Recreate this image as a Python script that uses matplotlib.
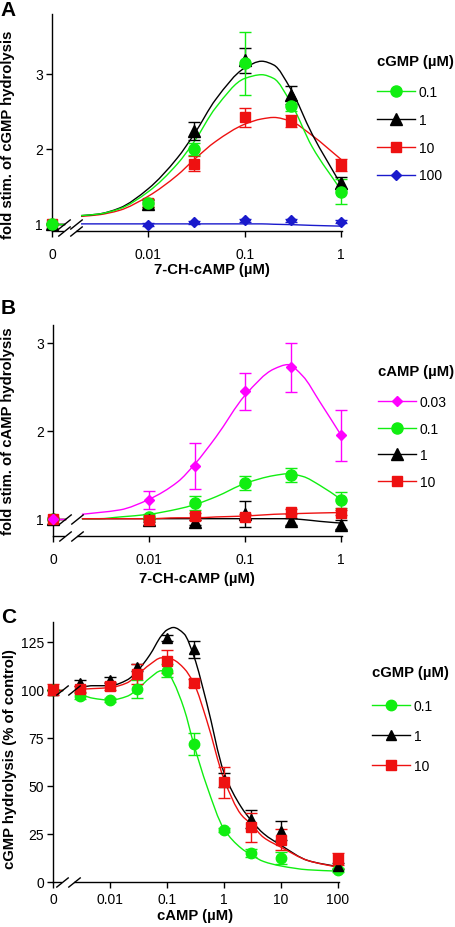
import numpy as np
import matplotlib
matplotlib.use('Agg')
import matplotlib.pyplot as plt
from matplotlib.path import Path
from matplotlib.patches import PathPatch
from matplotlib.lines import Line2D
import matplotlib.transforms as mtransforms
from matplotlib.ticker import NullLocator

plt.rcParams['font.family'] = ['Liberation Sans', 'DejaVu Sans']
plt.rcParams['font.size'] = 10

# ---------------- data ----------------
ZERO_POS = 0.001          # log-axis position used for the "0" concentration

# Panel A : fold stim. of cGMP hydrolysis vs 7-CH-cAMP, series = cGMP (uM)
a_x = [ZERO_POS, 0.01, 0.03, 0.1, 0.3, 1]
a_series = ['0.1', '1', '10', '100']
a_y_01 = [1.0, 1.28, 2.00, 3.14, 2.57, 1.43]
a_e_01 = [0.0, 0.05, 0.08, 0.42, 0.07, 0.17]
a_y_1 = [1.0, 1.27, 2.24, 3.18, 2.72, 1.54]
a_e_1 = [0.0, 0.05, 0.12, 0.17, 0.12, 0.08]
a_y_10 = [1.0, 1.28, 1.80, 2.42, 2.37, 1.79]
a_e_10 = [0.0, 0.05, 0.10, 0.13, 0.08, 0.08]
a_y_100 = [1.0, 0.99, 1.02, 1.05, 1.05, 1.03]
a_e_100 = [0.0, 0.02, 0.02, 0.02, 0.02, 0.02]
# fitted curves
a_fx = [0.002, 0.003, 0.005, 0.01, 0.02, 0.03, 0.05, 0.1, 0.15, 0.2, 0.3, 0.5, 1]
a_f_01 = [1.11, 1.13, 1.20, 1.43, 1.80, 2.10, 2.55, 2.94, 2.99, 2.94, 2.62, 2.03, 1.45]
a_f_1 = [1.11, 1.13, 1.21, 1.47, 1.88, 2.20, 2.66, 3.08, 3.17, 3.12, 2.80, 2.20, 1.52]
a_f_10 = [1.10, 1.12, 1.18, 1.37, 1.65, 1.86, 2.10, 2.33, 2.40, 2.42, 2.37, 2.18, 1.86]
a_f_100 = [1.0, 1.0, 1.0, 1.0, 1.0, 1.0, 1.0, 1.0, 1.0, 0.995, 0.99, 0.98, 0.97]

# Panel B : fold stim. of cAMP hydrolysis vs 7-CH-cAMP, series = cAMP (uM)
b_x = [ZERO_POS, 0.01, 0.03, 0.1, 0.3, 1]
b_series = ['0.03', '0.1', '1', '10']
b_y_003 = [1.0, 1.21, 1.60, 2.45, 2.72, 1.95]
b_e_003 = [0.02, 0.10, 0.26, 0.21, 0.28, 0.29]
b_y_01 = [1.0, 1.02, 1.18, 1.41, 1.50, 1.21]
b_e_01 = [0.0, 0.03, 0.08, 0.08, 0.08, 0.09]
b_y_1 = [1.0, 0.98, 0.96, 1.05, 0.97, 0.93]
b_e_1 = [0.0, 0.02, 0.03, 0.15, 0.04, 0.05]
b_y_10 = [1.0, 0.99, 1.03, 1.02, 1.08, 1.07]
b_e_10 = [0.0, 0.02, 0.04, 0.03, 0.03, 0.03]
b_fx = [0.002, 0.003, 0.005, 0.01, 0.02, 0.03, 0.05, 0.1, 0.2, 0.28, 0.4, 0.6, 1]
b_f_003 = [1.05, 1.07, 1.10, 1.22, 1.42, 1.62, 1.93, 2.40, 2.70, 2.75, 2.62, 2.33, 1.95]
b_f_01 = [1.0, 1.0, 1.02, 1.05, 1.11, 1.16, 1.25, 1.40, 1.49, 1.51, 1.48, 1.38, 1.22]
b_f_1 = [1.0, 1.0, 1.0, 1.0, 1.0, 1.0, 1.0, 1.0, 1.0, 1.0, 0.99, 0.97, 0.95]
b_f_10 = [1.0, 1.0, 1.0, 1.0, 1.01, 1.01, 1.02, 1.03, 1.05, 1.055, 1.06, 1.065, 1.07]

# Panel C : cGMP hydrolysis (% of control) vs cAMP, series = cGMP (uM)
c_x = [ZERO_POS, 0.003, 0.01, 0.03, 0.1, 0.3, 1, 3, 10, 100]
c_series = ['0.1', '1', '10']
c_y_01 = [100, 96.5, 94.5, 100.3, 109.8, 71.7, 27.0, 14.9, 12.2, 6.3]
c_e_01 = [0, 1.5, 1.0, 4.5, 3.5, 5.6, 1.0, 2.0, 3.0, 1.0]
c_y_1 = [100, 103.4, 105.0, 111.5, 126.7, 121.0, 53.0, 32.6, 26.5, 8.3]
c_e_1 = [0, 1.5, 1.5, 2.0, 1.5, 4.5, 3.5, 4.5, 5.0, 1.5]
c_y_10 = [100, 100.3, 101.7, 108.1, 114.7, 103.4, 51.7, 28.3, 21.9, 11.8]
c_e_10 = [3.0, 1.5, 2.0, 5.0, 6.0, 2.0, 8.2, 7.4, 5.5, 3.0]
c_fx = [0.0025, 0.005, 0.01, 0.02, 0.03, 0.05, 0.08, 0.1, 0.13, 0.2, 0.3, 0.5, 1, 2, 3, 5, 10, 30, 100]
c_f_01 = [98.5, 95.5, 94.5, 96.5, 100, 106, 109.8, 109.5, 104, 90, 71, 50, 27.5, 17.5, 14, 10.5, 8.2, 6.2, 5.5]
c_f_1 = [100.5, 102, 102, 105, 109.5, 118, 128, 131, 132.3, 129, 117, 93, 57, 39, 32, 25, 19, 11, 7.8]
c_f_10 = [100, 100.5, 101, 103.5, 107.5, 113, 116.5, 116.5, 115.5, 111, 103, 84, 53.5, 35, 30, 23, 18, 11, 7.5]

GREEN = '#11ee11'
RED = '#ee1111'
BLACK = '#000000'
BLUE = '#1a1acc'
MAGENTA = '#ff00ff'
BOLD_SIZE = 10.7


def smooth_curve(ax, xs, ys, color, lw=1.0):
    """Draw a smooth (monotone cubic) Bezier path through knots in log-x space."""
    xs = np.asarray(xs, float)
    y = np.asarray(ys, float)
    u = np.log10(xs)
    h = np.diff(u)
    d = np.diff(y) / h
    m = np.zeros_like(y)
    m[0] = d[0]
    m[-1] = d[-1]
    for k in range(1, len(y) - 1):
        if d[k - 1] * d[k] <= 0:
            m[k] = 0.0
        else:
            w1 = 2 * h[k] + h[k - 1]
            w2 = h[k] + 2 * h[k - 1]
            m[k] = (w1 + w2) / (w1 / d[k - 1] + w2 / d[k])
    verts = [(xs[0], y[0])]
    codes = [Path.MOVETO]
    for k in range(len(h)):
        verts.append((10 ** (u[k] + h[k] / 3), y[k] + m[k] * h[k] / 3))
        verts.append((10 ** (u[k + 1] - h[k] / 3), y[k + 1] - m[k + 1] * h[k] / 3))
        verts.append((xs[k + 1], y[k + 1]))
        codes += [Path.CURVE4] * 3
    ax.add_patch(PathPatch(Path(verts, codes), fill=False, edgecolor=color,
                           lw=lw, zorder=2))


SLASH = [(-1, -0.8), (1, 0.8)]


def axis_break(ax, b1, b2, base_y):
    blend = mtransforms.blended_transform_factory(ax.transData, ax.transAxes)
    ax.plot([b1, b2], [0, 0], color='white', lw=3, transform=blend,
            clip_on=False, zorder=3, solid_capstyle='butt')
    for bx in (b1, b2):
        ax.plot([bx], [0], marker=SLASH, ms=9, mfc='none', mec='k', mew=1.0,
                transform=blend, clip_on=False, zorder=4, ls='none')
        ax.plot([bx], [base_y], marker=SLASH, ms=9, mfc='none', mec='k', mew=1.0,
                clip_on=False, zorder=6, ls='none')


def series(ax, x, y, e, fx, fy, color, marker, ms, b1):
    smooth_curve(ax, fx, fy, color)
    ax.plot([x[0], b1], [y[0], y[0]], color=color, lw=1.0, zorder=2)
    ax.errorbar(x, y, yerr=e, fmt='none', ecolor=color, elinewidth=1.0,
                capsize=4.2, capthick=1.0, zorder=2.5, clip_on=False)
    ax.plot(x, y, ls='none', marker=marker, ms=ms, color=color, mec=color,
            zorder=3, clip_on=False)
    return Line2D([], [], color=color, lw=1.0, marker=marker, ms=ms, mec=color)


def style(ax, xlim, ylim, xticks, xticklabels, yticks, xpad):
    ax.set_xscale('log')
    ax.set_xlim(*xlim)
    ax.set_ylim(*ylim)
    ax.set_xticks(xticks)
    ax.set_xticklabels(xticklabels)
    ax.xaxis.set_minor_locator(NullLocator())
    ax.set_yticks(yticks)
    ax.set_yticklabels([str(t) for t in yticks])
    for s in ('top', 'right'):
        ax.spines[s].set_visible(False)
    for s in ('left', 'bottom'):
        ax.spines[s].set_linewidth(1.0)
    ax.tick_params(axis='x', direction='out', length=4.5, width=1.0, pad=xpad, labelsize=10)
    ax.tick_params(axis='y', direction='out', length=4, width=1.0, pad=2.5, labelsize=10)


fig = plt.figure(figsize=(4.56, 9.28), dpi=100)
W, H = 456.0, 928.0

def rect(l, r, top, bot):
    return [l / W, 1 - bot / H, (r - l) / W, (bot - top) / H]


def legend_block(ax, handles, labels, title, x, title_y, first_y, spacing):
    fig.text(x / W, 1 - title_y / H, title, fontweight='bold', fontsize=BOLD_SIZE,
             ha='left', va='center')
    ax.legend(handles, labels, loc='upper left',
              bbox_to_anchor=(x / W, 1 - (first_y - 7.2) / H),
              bbox_transform=fig.transFigure, frameon=False,
              handlelength=2.75, handletextpad=0.25, labelspacing=spacing,
              borderpad=0, borderaxespad=0, numpoints=1, fontsize=10)


# ---------------- Panel A ----------------
axA = fig.add_axes(rect(52, 341.9, 15, 232))
b1A, b2A = 0.00133, 0.00178
hA = []
hA.append(series(axA, a_x, a_y_100, a_e_100, a_fx, a_f_100, BLUE, 'D', 5.2, b1A))
hA.append(series(axA, a_x, a_y_10, a_e_10, a_fx, a_f_10, RED, 's', 7, b1A))
hA.append(series(axA, a_x, a_y_1, a_e_1, a_fx, a_f_1, BLACK, '^', 8, b1A))
hA.append(series(axA, a_x, a_y_01, a_e_01, a_fx, a_f_01, GREEN, 'o', 8, b1A))
style(axA, (ZERO_POS, 1.02), (0.905, 3.8), [ZERO_POS, 0.01, 0.1, 1],
      ['0', '0.01', '0.1', '1'], [1, 2, 3], 7)
axis_break(axA, b1A, b2A, 1.0)
axA.set_xlabel('7-CH-cAMP (µM)', fontweight='bold', fontsize=BOLD_SIZE)
axA.xaxis.set_label_coords(0.553, -0.142)
axA.set_ylabel('fold stim. of cGMP hydrolysis', fontweight='bold', fontsize=BOLD_SIZE)
axA.yaxis.set_label_coords(-0.128, 0.45)
legend_block(axA, hA[::-1], a_series, 'cGMP (µM)', 377, 62, 93, 1.0)

# ---------------- Panel B ----------------
axB = fig.add_axes(rect(53, 341.8, 326, 537.3))
b1B, b2B = 0.00133, 0.00178
hB = []
hB.append(series(axB, b_x, b_y_01, b_e_01, b_fx, b_f_01, GREEN, 'o', 8, b1B))
hB.append(series(axB, b_x, b_y_1, b_e_1, b_fx, b_f_1, BLACK, '^', 8, b1B))
hB.append(series(axB, b_x, b_y_10, b_e_10, b_fx, b_f_10, RED, 's', 7, b1B))
hB.append(series(axB, b_x, b_y_003, b_e_003, b_fx, b_f_003, MAGENTA, 'D', 5.5, b1B))
style(axB, (ZERO_POS, 1.02), (0.8, 3.2), [ZERO_POS, 0.01, 0.1, 1],
      ['0', '0.01', '0.1', '1'], [1, 2, 3], 7)
axis_break(axB, b1B, b2B, 1.0)
axB.set_xlabel('7-CH-cAMP (µM)', fontweight='bold', fontsize=BOLD_SIZE)
axB.xaxis.set_label_coords(0.497, -0.163)
axB.set_ylabel('fold stim. of cAMP hydrolysis', fontweight='bold', fontsize=BOLD_SIZE)
axB.yaxis.set_label_coords(-0.13, 0.5)
legend_block(axB, [hB[3], hB[0], hB[1], hB[2]], b_series, 'cAMP (µM)', 378, 372, 403.5, 0.9)

# ---------------- Panel C ----------------
axC = fig.add_axes(rect(53, 339.0, 623.3, 882.7))
b1C, b2C = 0.00142, 0.00232
hC = []
hC.append(series(axC, c_x, c_y_01, c_e_01, c_fx, c_f_01, GREEN, 'o', 7.5, b1C))
hC.append(series(axC, c_x, c_y_1, c_e_1, c_fx, c_f_1, BLACK, '^', 7.5, b1C))
hC.append(series(axC, c_x, c_y_10, c_e_10, c_fx, c_f_10, RED, 's', 7, b1C))
style(axC, (ZERO_POS, 105), (0, 135), [ZERO_POS, 0.01, 0.1, 1, 10, 100],
      ['0', '0.01', '0.1', '1', '10', '100'], [0, 25, 50, 75, 100, 125], 3)
axis_break(axC, b1C, b2C, 100)
axC.set_xlabel('cAMP (µM)', fontweight='bold', fontsize=BOLD_SIZE)
axC.xaxis.set_label_coords(0.498, -0.1)
axC.set_ylabel('cGMP hydrolysis (% of control)', fontweight='bold', fontsize=BOLD_SIZE)
axC.yaxis.set_label_coords(-0.125, 0.477)
legend_block(axC, hC, c_series, 'cGMP (µM)', 372, 673.5, 707, 1.15)

# panel letters
fig.text(0.002, 0.999, 'A', fontsize=15, fontweight='bold', va='top', ha='left')
fig.text(0.002, 1 - 299 / H, 'B', fontsize=15, fontweight='bold', va='top', ha='left')
fig.text(0.002, 1 - 608 / H, 'C', fontsize=15, fontweight='bold', va='top', ha='left')

fig.savefig('out.png', dpi=100)
